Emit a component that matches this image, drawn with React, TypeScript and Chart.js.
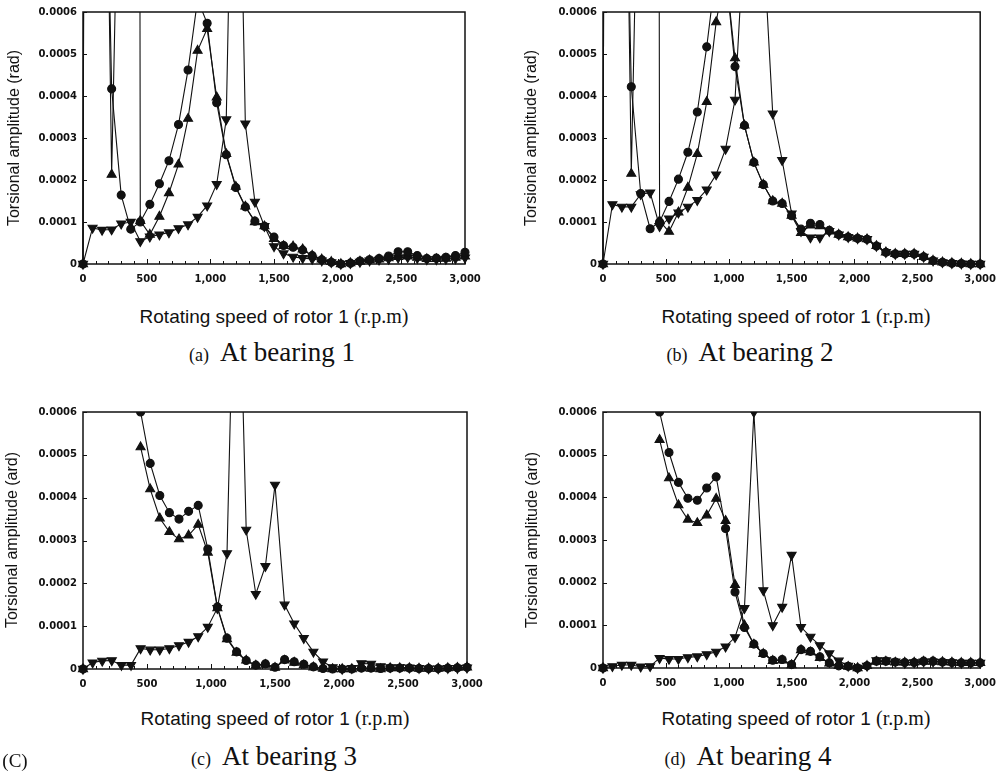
import React, { useEffect, useRef } from 'react';
import { Chart, registerables } from 'chart.js';

Chart.register(...registerables);

// Rotating speed of rotor 1 (r.p.m)
const RPM = [0, 75, 150, 225, 300, 375, 450, 525, 600, 675, 750, 825, 900, 975, 1050, 1125, 1200, 1275, 1350, 1425, 1500, 1575, 1650, 1725, 1800, 1875, 1950, 2025, 2100, 2175, 2250, 2325, 2400, 2475, 2550, 2625, 2700, 2775, 2850, 2925, 3000];
const X_TICKS = [0, 500, 1000, 1500, 2000, 2500, 3000];
const Y_TICKS = [0, 0.0001, 0.0002, 0.0003, 0.0004, 0.0005, 0.0006];

// Torsional amplitude, in units of 1e-4 rad (null = not plotted)
const A_CIRCLE = [0, 100, 15, 4.17, 1.64, 0.83, 1.0, 1.42, 1.91, 2.46, 3.32, 4.62, 6.3, 5.73, 3.84, 2.6, 1.82, 1.36, 1.02, 0.9, 0.64, 0.44, 0.4, 0.33, 0.2, 0.1, 0.04, 0, 0.02, 0.07, 0.1, 0.13, 0.19, 0.29, 0.29, 0.2, 0.13, 0.14, 0.16, 0.2, 0.28];
const A_UP = [0, 100, 18, 2.13, 13, 150, 1.03, 0.7, 1.13, 1.69, 2.37, 3.46, 5.08, 5.6, 3.97, 2.62, 1.84, 1.37, 1.0, 0.9, 0.6, 0.43, 0.42, 0.35, 0.2, 0.11, 0.05, 0, 0.02, 0.06, 0.09, 0.11, 0.14, 0.17, 0.18, 0.15, 0.12, 0.12, 0.13, 0.15, 0.18];
const A_DOWN = [0, 0.86, 0.81, 0.82, 0.96, 1.0, 0.54, 0.65, 0.7, 0.75, 0.85, 0.94, 1.12, 1.39, 1.9, 3.44, 15, 3.34, 1.48, 0.9, 0.42, 0.25, 0.17, 0.14, 0.12, 0.08, 0.04, 0, 0.02, 0.05, 0.08, 0.1, 0.12, 0.15, 0.16, 0.14, 0.11, 0.11, 0.12, 0.13, 0.15];

const B_CIRCLE = [0, 100, 15, 4.22, 1.68, 0.84, 1.0, 1.49, 2.02, 2.66, 3.62, 5.17, 7.0, 7.0, 4.7, 3.3, 2.42, 1.89, 1.5, 1.44, 1.15, 0.83, 0.97, 0.94, 0.8, 0.7, 0.64, 0.61, 0.59, 0.43, 0.28, 0.24, 0.24, 0.24, 0.17, 0.08, 0.04, 0.02, 0.01, 0, 0];
const B_UP = [0, 100, 18, 2.15, 13, 150, 1.02, 0.77, 1.23, 1.82, 2.62, 3.86, 5.76, 7.0, 4.9, 3.3, 2.42, 1.89, 1.5, 1.44, 1.15, 0.74, 0.92, 0.9, 0.78, 0.7, 0.64, 0.61, 0.59, 0.43, 0.28, 0.24, 0.24, 0.24, 0.17, 0.08, 0.04, 0.02, 0.01, 0, 0];
const B_DOWN = [0, 1.42, 1.36, 1.36, 1.66, 1.7, 0.9, 1.08, 1.22, 1.36, 1.52, 1.77, 2.13, 2.74, 3.91, 8, 20, 7.7, 3.58, 2.47, 1.2, 0.78, 0.63, 0.63, 0.78, 0.7, 0.64, 0.61, 0.59, 0.43, 0.28, 0.24, 0.24, 0.24, 0.17, 0.08, 0.04, 0.02, 0.01, 0, 0];

const C_CIRCLE = [0, null, null, null, null, null, 6.0, 4.8, 4.05, 3.65, 3.5, 3.68, 3.82, 2.8, 1.45, 0.72, 0.4, 0.2, 0.09, 0.12, 0.04, 0.22, 0.17, 0.11, 0.05, 0.01, 0, 0, 0, 0.02, 0.02, 0.01, 0.02, 0.02, 0.02, 0.01, 0.01, 0.01, 0.02, 0.03, 0.04];
const C_UP = [0, null, null, null, null, null, 5.18, 4.2, 3.52, 3.2, 3.03, 3.12, 3.37, 2.72, 1.42, 0.7, 0.38, 0.2, 0.08, 0.1, 0.03, 0.2, 0.15, 0.09, 0.04, 0.01, 0, 0, 0, 0.02, 0.01, 0, 0.02, 0.02, 0.02, 0.01, 0.01, 0.01, 0.02, 0.03, 0.04];
const C_DOWN = [0, 0.15, 0.19, 0.2, 0.09, 0.09, 0.48, 0.45, 0.45, 0.48, 0.55, 0.63, 0.76, 0.98, 1.42, 2.7, 12, 3.25, 1.75, 2.4, 4.3, 1.5, 1.06, 0.72, 0.4, 0.17, 0.04, 0, 0.02, 0.13, 0.12, 0.06, 0.04, 0.04, 0.03, 0.02, 0.01, 0.01, 0.02, 0.02, 0.03];

const D_CIRCLE = [0, null, null, null, null, null, 6.0, 5.05, 4.35, 3.98, 3.93, 4.22, 4.48, 3.27, 1.78, 0.95, 0.56, 0.34, 0.18, 0.2, 0.08, 0.43, 0.39, 0.26, 0.12, 0.05, 0.04, 0, 0.05, 0.16, 0.16, 0.14, 0.13, 0.13, 0.16, 0.16, 0.14, 0.13, 0.12, 0.12, 0.12];
const D_UP = [0, null, null, null, null, null, 5.35, 4.45, 3.82, 3.48, 3.4, 3.58, 3.97, 3.45, 1.95, 1.0, 0.55, 0.33, 0.17, 0.18, 0.07, 0.42, 0.37, 0.24, 0.11, 0.05, 0.03, 0, 0.05, 0.15, 0.15, 0.13, 0.13, 0.13, 0.15, 0.15, 0.14, 0.13, 0.12, 0.12, 0.12];
const D_DOWN = [0, 0.04, 0.07, 0.07, 0.03, 0.04, 0.23, 0.21, 0.21, 0.25, 0.27, 0.32, 0.38, 0.5, 0.72, 1.4, 6.0, 1.82, 1.0, 1.43, 2.65, 0.96, 0.73, 0.53, 0.34, 0.17, 0.05, 0, 0.05, 0.18, 0.18, 0.15, 0.12, 0.13, 0.15, 0.15, 0.14, 0.13, 0.12, 0.12, 0.12];

const UNIT = 1e-4;
const X_MINOR_STEP = 100;

const SANS = '"Liberation Sans", Arial, sans-serif';
const SERIF = '"Liberation Serif", "Times New Roman", serif';
const TICK_FONT = { family: '"DejaVu Sans", sans-serif', size: 10, weight: 'bold' as const };

const framePlugin = {
  id: 'frameTicks',
  afterDatasetsDraw(chart: any) {
    const { ctx, chartArea: a, scales } = chart;
    ctx.save();
    ctx.strokeStyle = '#111';
    ctx.lineWidth = 1;
    ctx.beginPath();
    for (let v = 0; v <= 3000; v += X_MINOR_STEP) {
      const px = Math.round(scales.x.getPixelForValue(v)) + 0.5;
      const len = v % 500 === 0 ? 5 : 3;
      ctx.moveTo(px, a.bottom);
      ctx.lineTo(px, a.bottom - len);
    }
    for (const v of Y_TICKS) {
      const py = Math.round(scales.y.getPixelForValue(v)) + 0.5;
      ctx.moveTo(a.left, py);
      ctx.lineTo(a.left + 4, py);
    }
    ctx.stroke();
    ctx.lineWidth = 1.5;
    ctx.strokeRect(a.left, a.top, a.right - a.left, a.bottom - a.top);
    ctx.restore();
  },
};

type PanelProps = {
  circle: (number | null)[];
  up: (number | null)[];
  down: (number | null)[];
  left: number;
  top: number;
  width: number;
  height: number;
  padTop: number;
  padRight: number;
  yAxisWidth: number;
  xAxisHeight: number;
};

const toPoints = (vals: (number | null)[]) =>
  RPM.map((x, i) => ({ x, y: vals[i] === null ? null : (vals[i] as number) * UNIT }));

function Panel(p: PanelProps) {
  const ref = useRef<HTMLCanvasElement | null>(null);
  useEffect(() => {
    if (!ref.current) return;
    const common = {
      borderColor: '#111',
      backgroundColor: '#111',
      pointBackgroundColor: '#111',
      pointBorderColor: '#111',
      borderWidth: 1.1,
      tension: 0,
      spanGaps: false,
      clip: { left: 8, right: 8, top: 0, bottom: 8 },
    };
    const chart = new Chart(ref.current, {
      type: 'line',
      data: {
        datasets: [
          { ...common, label: 'circle', data: toPoints(p.circle) as any, pointStyle: 'circle', pointRadius: 4 },
          { ...common, label: 'up', data: toPoints(p.up) as any, pointStyle: 'triangle', pointRadius: 5.2 },
          { ...common, label: 'down', data: toPoints(p.down) as any, pointStyle: 'triangle', pointRotation: 180, pointRadius: 5.2 },
        ],
      },
      options: {
        animation: false,
        responsive: false,
        maintainAspectRatio: false,
        events: [],
        layout: { padding: { top: p.padTop, right: p.padRight, left: 0, bottom: 0 } },
        plugins: { legend: { display: false }, tooltip: { enabled: false }, title: { display: false } },
        scales: {
          x: {
            type: 'linear',
            min: 0,
            max: 3000,
            grid: { display: false, drawTicks: false },
            border: { display: false },
            afterBuildTicks: (s: any) => {
              s.ticks = X_TICKS.map((v) => ({ value: v }));
            },
            afterFit: (s: any) => {
              s.height = p.xAxisHeight;
            },
            ticks: {
              autoSkip: false,
              maxRotation: 0,
              padding: 9,
              color: '#111',
              font: TICK_FONT,
              callback: (v: any) => Number(v).toLocaleString('en-US'),
            },
          },
          y: {
            type: 'linear',
            min: 0,
            max: 0.0006,
            grid: { display: false, drawTicks: false },
            border: { display: false },
            afterBuildTicks: (s: any) => {
              s.ticks = Y_TICKS.map((v) => ({ value: v }));
            },
            afterFit: (s: any) => {
              s.width = p.yAxisWidth;
            },
            ticks: {
              padding: 6,
              color: '#111',
              font: TICK_FONT,
              callback: (v: any) => (Number(v) === 0 ? '0' : Number(v).toFixed(4)),
            },
          },
        },
      } as any,
      plugins: [framePlugin],
    });
    return () => chart.destroy();
  }, []);
  return (
    <canvas
      ref={ref}
      width={p.width}
      height={p.height}
      style={{ position: 'absolute', left: p.left, top: p.top, width: p.width, height: p.height }}
    />
  );
}

function YTitle({ cx, cy, text }: { cx: number; cy: number; text: string }) {
  return (
    <div
      style={{
        position: 'absolute',
        left: cx,
        top: cy,
        transform: 'translate(-50%, -50%) rotate(-90deg)',
        whiteSpace: 'nowrap',
        font: `16px ${SANS}`,
        color: '#111',
        lineHeight: 1,
      }}
    >
      {text}
    </div>
  );
}

function XTitle({ cx, cy }: { cx: number; cy: number }) {
  return (
    <div
      style={{
        position: 'absolute',
        left: cx,
        top: cy,
        transform: 'translate(-50%, -50%)',
        whiteSpace: 'nowrap',
        color: '#111',
        lineHeight: 1,
      }}
    >
      <span style={{ font: `19px ${SANS}` }}>Rotating speed of rotor 1 </span>
      <span style={{ font: `20px ${SERIF}` }}>(r.p.m)</span>
    </div>
  );
}

function Caption({ cx, cy, tag, text }: { cx: number; cy: number; tag: string; text: string }) {
  return (
    <div
      style={{
        position: 'absolute',
        left: cx,
        top: cy,
        transform: 'translate(-50%, -50%)',
        whiteSpace: 'nowrap',
        color: '#111',
        lineHeight: 1,
      }}
    >
      <span style={{ font: `18px ${SERIF}` }}>{tag}</span>
      <span style={{ font: `27px ${SERIF}`, marginLeft: 11 }}>{text}</span>
    </div>
  );
}

export default function App() {
  return (
    <div style={{ position: 'absolute', left: 0, top: 0, width: 1005, height: 776, background: '#fff', overflow: 'hidden' }}>
      <Panel circle={A_CIRCLE} up={A_UP} down={A_DOWN} left={0} top={0} width={500} height={300} padTop={11} padRight={35} yAxisWidth={83} xAxisHeight={36} />
      <Panel circle={B_CIRCLE} up={B_UP} down={B_DOWN} left={500} top={0} width={505} height={300} padTop={11} padRight={17} yAxisWidth={103} xAxisHeight={36} />
      <Panel circle={C_CIRCLE} up={C_UP} down={C_DOWN} left={0} top={400} width={500} height={300} padTop={12} padRight={33} yAxisWidth={83} xAxisHeight={31} />
      <Panel circle={D_CIRCLE} up={D_UP} down={D_DOWN} left={500} top={400} width={505} height={300} padTop={12} padRight={17} yAxisWidth={103} xAxisHeight={32} />

      <YTitle cx={14} cy={138} text="Torsional amplitude (rad)" />
      <YTitle cx={531} cy={138} text="Torsional amplitude (rad)" />
      <YTitle cx={12} cy={540} text="Torsional amplitude (ard)" />
      <YTitle cx={532} cy={540} text="Torsional amplitude (ard)" />

      <XTitle cx={274} cy={316} />
      <XTitle cx={796} cy={316} />
      <XTitle cx={275} cy={718} />
      <XTitle cx={796} cy={718} />

      <Caption cx={272} cy={352} tag="(a)" text="At bearing 1" />
      <Caption cx={750} cy={352} tag="(b)" text="At bearing 2" />
      <Caption cx={274} cy={756} tag="(c)" text="At bearing 3" />
      <Caption cx={748} cy={756} tag="(d)" text="At bearing 4" />

      <div style={{ position: 'absolute', left: 15, top: 760, transform: 'translate(-50%, -50%)', font: `19px ${SERIF}`, color: '#111', lineHeight: 1 }}>
        (C)
      </div>
    </div>
  );
}
